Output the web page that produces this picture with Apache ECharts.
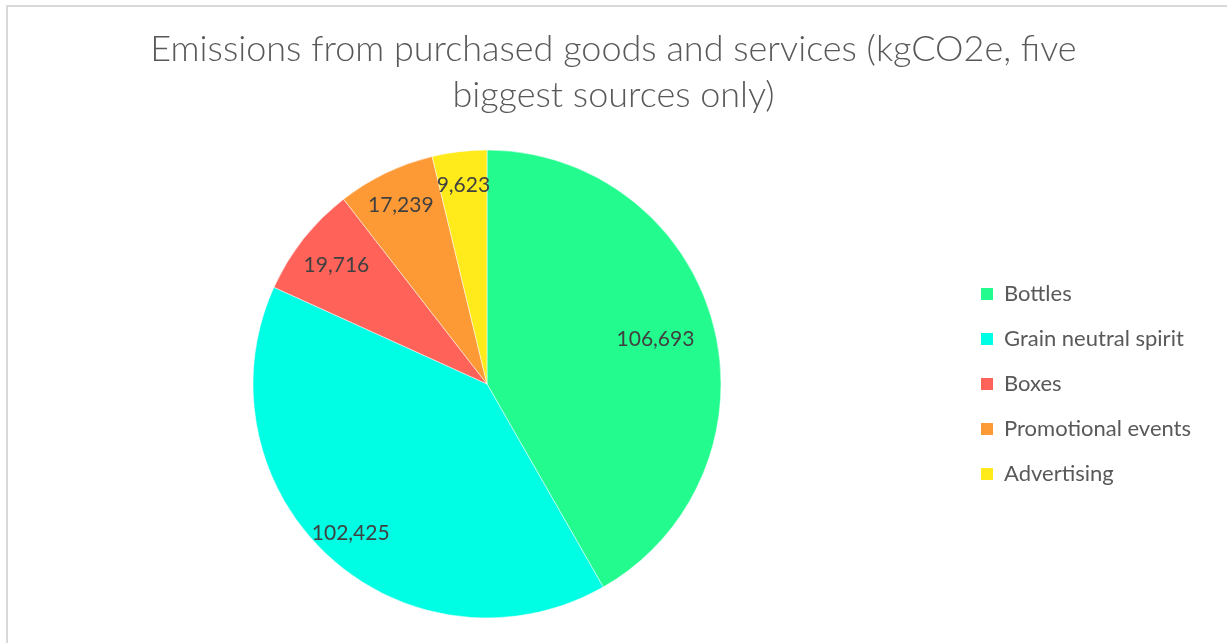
<!DOCTYPE html>
<html>
<head>
<meta charset="utf-8">
<script src="https://cdn.jsdelivr.net/npm/echarts@6/dist/echarts.min.js"></script>
<style>
html,body{margin:0;padding:0;background:#fff;}
#chart{width:1227px;height:643px;}
</style>
</head>
<body>
<div id="chart"></div>
<script>
var categories = ['Bottles', 'Grain neutral spirit', 'Boxes', 'Promotional events', 'Advertising'];
var values = [106693, 102425, 19716, 17239, 9623];
var colors = ['#23FB8E', '#00FEE4', '#FF6259', '#FE9A36', '#FFEA1C'];
var labelRadiusFactor = [0.745, 0.865, 0.82, 0.85, 0.855];

var CX = 487, CY = 384, R = 234;

var chart = echarts.init(document.getElementById('chart'), null, {renderer: 'canvas'});
var option = {
  backgroundColor: '#ffffff',
  animation: false,
  title: {
    text: 'Emissions from purchased goods and services (kgCO2e, five\nbiggest sources only)',
    left: 'center',
    top: 26,
    padding: [0, 0, 0, 10],
    textStyle: {
      fontFamily: 'Lato',
      fontWeight: 300,
      fontSize: 36,
      lineHeight: 46,
      color: '#595959'
    }
  },
  legend: {
    orient: 'vertical',
    left: 974,
    top: 278,
    icon: 'rect',
    itemWidth: 14,
    itemHeight: 14,
    itemGap: 23,
    selectedMode: false,
    data: categories,
    textStyle: {
      fontFamily: 'Lato',
      fontSize: 22,
      lineHeight: 22,
      color: '#595959',
      padding: [0, 0, 0, 5]
    }
  },
  graphic: [{
    type: 'rect',
    silent: true,
    shape: {x: 7, y: 6, width: 1400, height: 800},
    style: {fill: 'none', stroke: '#d9d9d9', lineWidth: 2},
    z: -1
  }],
  series: [{
    type: 'pie',
    center: [CX, CY],
    radius: R,
    startAngle: 90,
    clockwise: true,
    avoidLabelOverlap: false,
    itemStyle: {borderColor: '#ffffff', borderWidth: 0.5},
    label: {
      show: true,
      position: 'inside',
      fontFamily: 'Lato',
      fontSize: 21,
      color: '#404040',
      formatter: function (p) { return p.value.toLocaleString('en-US'); }
    },
    labelLine: {show: false},
    labelLayout: function (params) {
      var lr = params.labelRect;
      var lx = lr.x + lr.width / 2, ly = lr.y + lr.height / 2;
      var dx = lx - CX, dy = ly - CY;
      var d = Math.sqrt(dx * dx + dy * dy) || 1;
      var f = labelRadiusFactor[params.dataIndex];
      return {
        x: CX + dx / d * R * f,
        y: CY + dy / d * R * f,
        align: 'center',
        verticalAlign: 'middle'
      };
    },
    data: categories.map(function (c, i) {
      return {name: c, value: values[i], itemStyle: {color: colors[i]}};
    })
  }]
};
chart.setOption(option);
</script>
</body>
</html>
